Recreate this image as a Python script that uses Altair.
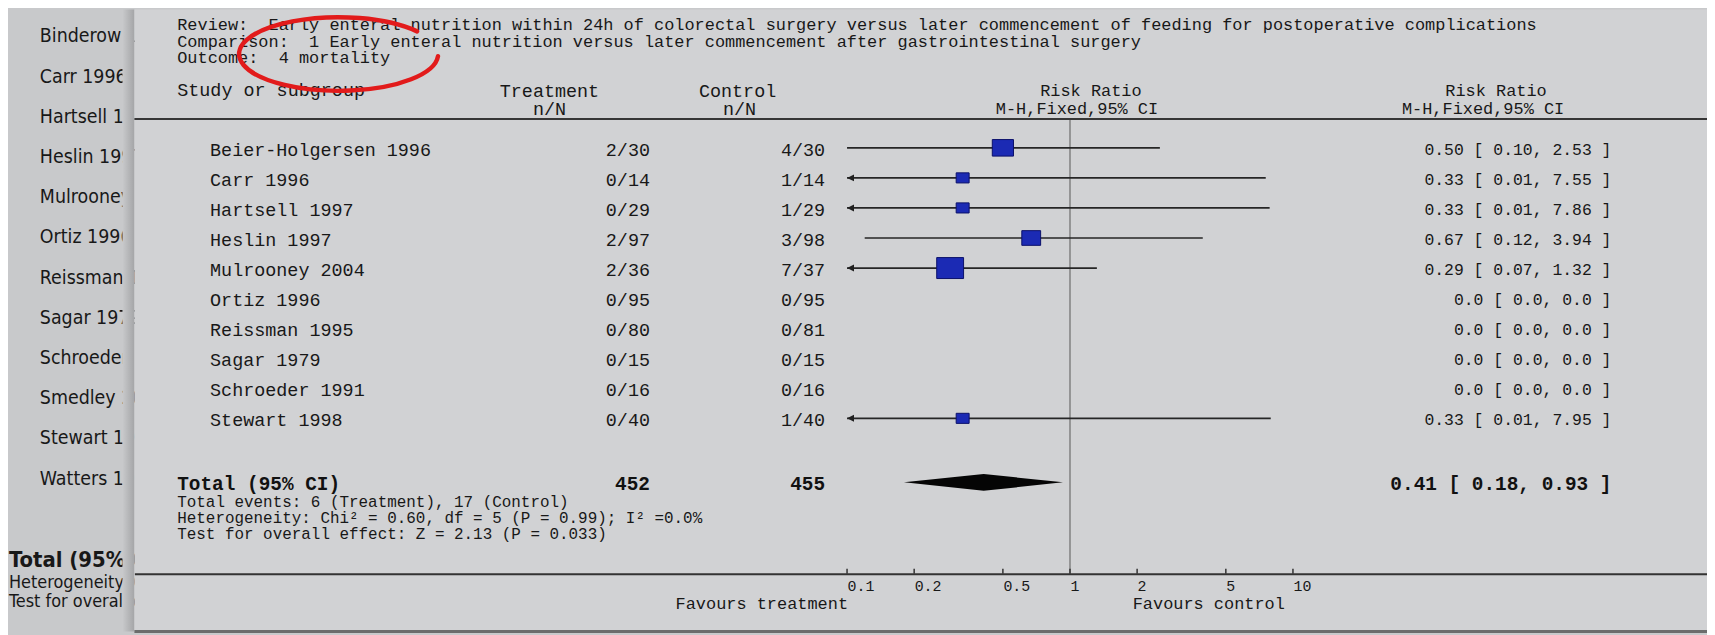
import altair as alt
import pandas as pd

# ---------------- data ----------------
NB = "\u00a0"
review_line = "Review:" + NB + " Early enteral nutrition within 24h of colorectal surgery versus later commencement of feeding for postoperative complications"
comparison_line = "Comparison:" + NB + " 1 Early enteral nutrition versus later commencement after gastrointestinal surgery"
outcome_line = "Outcome:" + NB + " 4 mortality"

studies = ["Beier-Holgersen 1996", "Carr 1996", "Hartsell 1997", "Heslin 1997", "Mulrooney 2004",
           "Ortiz 1996", "Reissman 1995", "Sagar 1979", "Schroeder 1991", "Stewart 1998"]
treatment = ["2/30", "0/14", "0/29", "2/97", "2/36", "0/95", "0/80", "0/15", "0/16", "0/40"]
control = ["4/30", "1/14", "1/29", "3/98", "7/37", "0/95", "0/81", "0/15", "0/16", "1/40"]
risk_ratio = [0.50, 0.33, 0.33, 0.67, 0.29, None, None, None, None, 0.33]
ci_low = [0.10, 0.01, 0.01, 0.12, 0.07, None, None, None, None, 0.01]
ci_high = [2.53, 7.55, 7.86, 3.94, 1.32, None, None, None, None, 7.95]
weights = [23.7, 5.9, 5.9, 17.7, 40.9, None, None, None, None, 5.9]
ci_labels = ["0.50 [ 0.10, 2.53 ]", "0.33 [ 0.01, 7.55 ]", "0.33 [ 0.01, 7.86 ]", "0.67 [ 0.12, 3.94 ]",
             "0.29 [ 0.07, 1.32 ]", "0.0 [ 0.0, 0.0 ]", "0.0 [ 0.0, 0.0 ]", "0.0 [ 0.0, 0.0 ]",
             "0.0 [ 0.0, 0.0 ]", "0.33 [ 0.01, 7.95 ]"]

total_label = "Total (95% CI)"
total_treatment = "452"
total_control = "455"
total_rr = 0.41
total_low = 0.18
total_high = 0.93
total_ci_label = "0.41 [ 0.18, 0.93 ]"
footnotes = ["Total events: 6 (Treatment), 17 (Control)",
             "Heterogeneity: Chi\u00b2 = 0.60, df = 5 (P = 0.99); I\u00b2 =0.0%",
             "Test for overall effect: Z = 2.13 (P = 0.033)"]

header_study = "Study or subgroup"
header_treatment = ["Treatment", "n/N"]
header_control = ["Control", "n/N"]
header_rr = ["Risk Ratio", "M-H,Fixed,95% CI"]

axis_ticks = [0.1, 0.2, 0.5, 1, 2, 5, 10]
favours_left = "Favours treatment"
favours_right = "Favours control"
ci_clip = [0.1, 10]

# background window (partly hidden behind the forest plot window)
bg_studies = ["Binderow 1997", "Carr 1996", "Hartsell 1997", "Heslin 1997",
              "Mulrooney 2004", "Ortiz 1996", "Reissman 1995", "Sagar 1979", "Schroeder 1991",
              "Smedley 2004", "Stewart 1998", "Watters 1997"]
bg_total = "Total (95% CI)"
bg_footer = ["Heterogeneity: Chi\u00b2 = 0.60, df = 5 (P = 0.99); I\u00b2 =0.0%",
             "Test for overall effect: Z = 2.13 (P = 0.033)"]

# ---------------- layout ----------------
OX, OY = 135, 8          # page pixel of plot origin
W, H = 1580, 567
ONE_X, DECADE = 1075, 224
ROW0, ROW_STEP = 147, 30.2
TOTAL_ROW = 11.13
BG_Y0, BG_STEP = 35.0, 40.4
DIAMOND_HALF = 0.28

MONO = "Liberation Mono"
COND = "DejaVu Sans Condensed, Liberation Sans Narrow, DejaVu Sans"
INK = "#181818"
BG_LEFT = "#c8c9cb"
WINDOW = "#d1d2d4"


def px(x):
    return x - OX


def py(y):
    return y - OY


xscale = alt.Scale(type="log", nice=False,
                   domain=[10 ** ((OX - ONE_X) / DECADE), 10 ** ((OX + W - ONE_X) / DECADE)])
yscale = alt.Scale(domain=[(OY - ROW0) / ROW_STEP, (OY + H - ROW0) / ROW_STEP],
                   reverse=True, nice=False, zero=False)
xaxis = alt.Axis(values=axis_ticks, format="~g", title=None, grid=False, ticks=False,
                 domainColor="#333333", domainWidth=2, labelFont=MONO, labelFontSize=15,
                 labelColor=INK, labelAlign="left", labelBaseline="top", labelPadding=5,
                 labelFlush=False, labelOverlap=False, zindex=1)


def X(f):
    return alt.X(f, type="quantitative", scale=xscale, axis=xaxis)


def Y(f):
    return alt.Y(f, type="quantitative", scale=yscale, axis=None)


one = pd.DataFrame({"o": [0]})


def label(text, x, y, size, align="left", weight="normal", font=MONO, color=INK):
    return alt.Chart(one).mark_text(
        text=text, align=align, baseline="middle", font=font, fontSize=size,
        fontWeight=weight, color=color
    ).encode(x=alt.value(px(x)), y=alt.value(py(y)))


rows = pd.DataFrame({"study": studies, "treatment": treatment, "control": control,
                     "rr": risk_ratio, "lo": ci_low, "hi": ci_high, "weight": weights,
                     "ci": ci_labels})
rows["row"] = range(len(rows))

bg = pd.DataFrame({"name": bg_studies})
bg["k"] = range(len(bg))

totals = pd.DataFrame({"label": [total_label], "t": [total_treatment], "c": [total_control],
                       "ci": [total_ci_label], "row": [TOTAL_ROW]})
diamond = pd.DataFrame({"x": [total_low, total_rr, total_high], "spread": [0, 1, 0]})
ticks = pd.DataFrame({"t": axis_ticks})
ref = pd.DataFrame({"v": [1]})

layers = []

# background window text
layers.append(
    alt.Chart(bg).transform_calculate(
        row=f"({BG_Y0} + {BG_STEP} * datum.k - {ROW0}) / {ROW_STEP}"
    ).mark_text(align="left", baseline="middle", font=COND, fontSize=19.5, color=INK)
    .encode(x=alt.value(px(40)), y=Y("row"), text="name:N")
)
layers.append(label(bg_total, 9, 561, 22, weight="bold", font=COND))
layers.append(label(bg_footer[0], 9, 584, 18, font=COND))
layers.append(label(bg_footer[1], 9, 603, 18, font=COND))

# window shadow + window
layers.append(
    alt.Chart(one).mark_rect(fill=alt.Gradient(
        gradient="linear", x1=0, x2=1, y1=0, y2=0,
        stops=[alt.GradientStop(color=BG_LEFT, offset=0), alt.GradientStop(color="#a4a5a7", offset=1)]))
    .encode(x=alt.value(-12), x2=alt.value(0), y=alt.value(0), y2=alt.value(py(633)))
)
layers.append(
    alt.Chart(one).mark_rect(fill=WINDOW)
    .encode(x=alt.value(0), x2=alt.value(W), y=alt.value(0), y2=alt.value(py(633)))
)

# titles
layers.append(label(review_line, 178, 24, 17))
layers.append(label(comparison_line, 178, 41, 17))
layers.append(label(outcome_line, 178, 57, 17))

# headers
layers.append(label(header_study, 178, 89, 18.5))
layers.append(label(header_treatment[0], 552, 90, 18.5, align="center"))
layers.append(label(header_treatment[1], 552, 108, 18.5, align="center"))
layers.append(label(header_control[0], 741, 90, 18.5, align="center"))
layers.append(label(header_control[1], 743, 108, 18.5, align="center"))
layers.append(label(header_rr[0], 1096, 90, 17, align="center"))
layers.append(label(header_rr[1], 1082, 108, 17, align="center"))
layers.append(label(header_rr[0], 1503, 90, 17, align="center"))
layers.append(label(header_rr[1], 1490, 108, 17, align="center"))

layers.append(
    alt.Chart(one).mark_rule(color="#363636", strokeWidth=2)
    .encode(x=alt.value(0), x2=alt.value(W), y=alt.value(py(118)))
)

# line of no effect
layers.append(
    alt.Chart(ref).mark_rule(color="#6c6c6c", strokeWidth=1.2)
    .encode(x=X("v"), y=alt.value(py(119)), y2=alt.value(py(575)))
)

# confidence intervals
studies_with_ci = alt.Chart(rows).transform_filter("isValid(datum.rr)").transform_calculate(
    lo_c=f"max(datum.lo, {ci_clip[0]})", hi_c=f"min(datum.hi, {ci_clip[1]})"
)
layers.append(
    studies_with_ci.mark_rule(color="#262626", strokeWidth=1.7)
    .encode(x=X("lo_c"), x2="hi_c", y=Y("row"))
)
layers.append(
    studies_with_ci.transform_filter(f"datum.lo < {ci_clip[0]}")
    .mark_point(shape="M0,0L1,-0.5L1,0.5Z", size=196, filled=True, color="#202020", opacity=1)
    .encode(x=X("lo_c"), y=Y("row"))
)
layers.append(
    studies_with_ci.mark_point(shape="M-1,-0.78L1,-0.78L1,0.78L-1,0.78Z", filled=True,
                               fill="#1b2ab4", stroke="#0b106a", strokeWidth=1, opacity=1)
    .encode(x=X("rr"), y=Y("row"),
            size=alt.Size("weight:Q", scale=alt.Scale(domain=[5.9, 40.9], range=[169, 729]), legend=None))
)

# pooled diamond
layers.append(
    alt.Chart(diamond).transform_calculate(
        top=f"{TOTAL_ROW} - datum.spread * {DIAMOND_HALF}",
        bot=f"{TOTAL_ROW} + datum.spread * {DIAMOND_HALF}"
    ).mark_area(color="#050505", opacity=1)
    .encode(x=X("x"), y=Y("top"), y2="bot")
)

# study row texts
layers.append(alt.Chart(rows).mark_text(align="left", baseline="middle", font=MONO, fontSize=18.5,
                                        color=INK, dy=2)
              .encode(x=alt.value(px(211)), y=Y("row"), text="study:N"))
layers.append(alt.Chart(rows).mark_text(align="right", baseline="middle", font=MONO, fontSize=18.5,
                                        color=INK, dy=2)
              .encode(x=alt.value(px(653)), y=Y("row"), text="treatment:N"))
layers.append(alt.Chart(rows).mark_text(align="right", baseline="middle", font=MONO, fontSize=18.5,
                                        color=INK, dy=2)
              .encode(x=alt.value(px(829)), y=Y("row"), text="control:N"))
layers.append(alt.Chart(rows).mark_text(align="right", baseline="middle", font=MONO, fontSize=16.5,
                                        color=INK, dy=2)
              .encode(x=alt.value(px(1619)), y=Y("row"), text="ci:N"))

# total row
for field, x, align in [("label", 178, "left"), ("t", 653, "right"),
                        ("c", 829, "right"), ("ci", 1619, "right")]:
    layers.append(alt.Chart(totals).mark_text(align=align, baseline="middle", font=MONO, fontSize=19.5,
                                              fontWeight="bold", color="#111111", dy=2)
                  .encode(x=alt.value(px(x)), y=Y("row"), text=f"{field}:N"))

layers.append(label(footnotes[0], 178, 503, 16))
layers.append(label(footnotes[1], 178, 519, 16))
layers.append(label(footnotes[2], 178, 535, 16))

# axis ticks (pointing up) and favours labels
layers.append(
    alt.Chart(ticks).mark_rule(color="#333333", strokeWidth=1.5)
    .encode(x=X("t"), y=alt.value(H - 5), y2=alt.value(H))
)
layers.append(label(favours_left, 852, 605, 17, align="right"))
layers.append(label(favours_right, 1138, 605, 17))

# window bottom border
layers.append(
    alt.Chart(one).mark_rule(color="#6c6c6c", strokeWidth=3)
    .encode(x=alt.value(0), x2=alt.value(W), y=alt.value(py(633)))
)

# red hand-drawn ellipse annotation
layers.append(
    alt.Chart(one).mark_point(shape="M0.99,0.02A1,0.37 0 1,1 0.78,-0.23", size=40000, filled=False,
                              stroke="#e21b1b", strokeWidth=4.5, strokeCap="round", opacity=1)
    .encode(x=alt.value(px(341)), y=alt.value(py(53)))
)

chart = alt.layer(*layers).properties(
    width=W, height=H,
    autosize=alt.AutoSizeParams(type="none"),
    padding={"left": OX - 8, "top": OY - 8, "right": 0, "bottom": 627 - H},
).configure(background=BG_LEFT).configure_view(stroke=None)

chart.save("out.html", embed_options={"renderer": "svg", "actions": False})
